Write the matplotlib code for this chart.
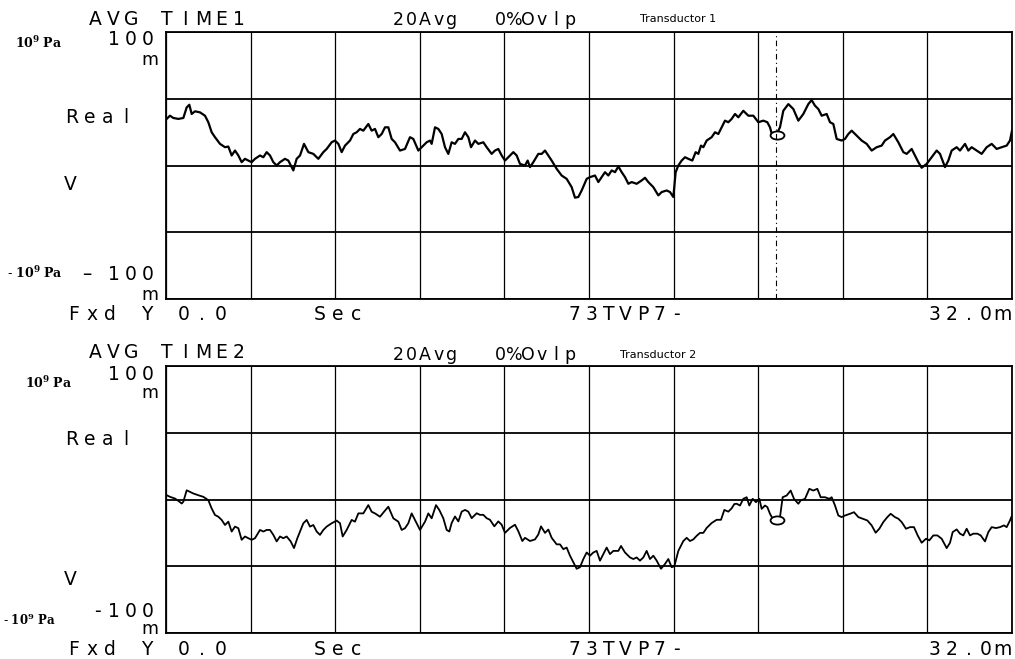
import matplotlib
matplotlib.use("Agg")
import matplotlib.pyplot as plt
import numpy as np
from matplotlib.path import Path
from matplotlib.transforms import Affine2D

# ---------------- data (time in ms, signal in mV) ----------------
t1 = [0.025, 0.151, 0.277, 0.466, 0.656, 0.782, 0.883, 0.971, 1.097, 1.286, 1.475, 1.601, 1.727, 1.853,
      2.043, 2.232, 2.358, 2.484, 2.610, 2.736, 2.862, 2.988, 3.114, 3.240, 3.366, 3.556, 3.682, 3.808,
      3.934, 4.060, 4.186, 4.312, 4.501, 4.627, 4.816, 4.942, 5.069, 5.220, 5.384, 5.573, 5.762, 5.951,
      6.077, 6.266, 6.392, 6.519, 6.645, 6.771, 6.960, 7.086, 7.212, 7.338, 7.464, 7.653, 7.779, 7.905,
      8.031, 8.158, 8.284, 8.410, 8.536, 8.662, 8.851, 9.040, 9.229, 9.355, 9.544, 9.733, 9.860, 9.986,
      10.049, 10.175, 10.301, 10.427, 10.553, 10.679,
      10.805, 10.931, 11.058, 11.184, 11.310, 11.436, 11.537, 11.688, 11.814, 12.003, 12.129, 12.318,
      12.444, 12.570, 12.697, 12.823, 13.012, 13.138, 13.264, 13.390, 13.579, 13.680, 13.768, 13.894,
      14.083, 14.210, 14.336, 14.462, 14.588, 14.777, 14.966, 15.155, 15.344, 15.470, 15.597, 15.723,
      15.912, 16.038, 16.227, 16.353, 16.479, 16.605, 16.731, 16.858, 16.984, 17.110, 17.236, 17.362,
      17.488, 17.614, 17.803, 17.992, 18.118, 18.244, 18.433, 18.622, 18.749, 18.938, 19.064, 19.190,
      19.278, 19.379, 19.505, 19.631, 19.757, 19.908, 20.035, 20.135, 20.236, 20.325, 20.451, 20.640,
      20.766, 20.892, 21.018, 21.144, 21.270, 21.396, 21.523,
      21.648, 21.837, 22.027, 22.216, 22.405, 22.594, 22.746, 22.846, 22.947, 23.098, 23.224, 23.350,
      23.540, 23.729, 23.918, 24.107, 24.296, 24.422, 24.548, 24.675, 24.801, 24.990, 25.116, 25.242,
      25.368, 25.557, 25.683, 25.809, 25.935, 26.124, 26.313, 26.503, 26.692, 26.881, 27.070, 27.196,
      27.385, 27.511, 27.700, 27.889, 28.016, 28.205, 28.331, 28.457, 28.583, 28.772, 28.961, 29.150,
      29.277, 29.466, 29.592, 29.718, 29.907, 30.033, 30.222, 30.348, 30.474, 30.663, 30.853, 31.042,
      31.231, 31.420, 31.609, 31.798, 31.924, 32.000]
v1 = [34.9, 37.3, 35.6, 34.9, 35.6, 43.5, 45.5, 38.6, 40.6, 39.8, 37.3, 32.4, 24.9, 21.2,
      16.2, 13.7, 14.2, 7.5, 11.2, 7.5, 2.5, 5.0, 3.7, 2.5, 5.0, 7.5, 6.2, 10.0,
      7.5, 2.5, 0.0, 2.5, 5.0, 3.7, -3.7, 5.0, 7.5, 16.2, 10.0, 8.7, 5.0, 10.0,
      12.4, 17.4, 18.7, 16.2, 10.0, 14.9, 18.7, 23.6, 24.9, 27.4, 26.1, 31.1, 26.1, 27.4,
      21.2, 23.6, 28.6, 28.6, 19.9, 17.4, 11.2, 12.4, 21.2, 19.9, 11.2, 14.9, 17.4, 18.7,
      16.2, 28.6, 27.4, 23.6, 13.7, 8.7,
      17.4, 16.2, 19.9, 19.9, 24.9, 21.2, 13.7, 18.7, 16.2, 17.4, 13.7, 8.7,
      11.2, 12.4, 7.5, 3.7, 7.5, 10.0, 7.5, 1.2, 0.0, 3.7, -1.2, 2.5,
      8.7, 8.7, 11.2, 7.5, 3.7, -2.5, -7.5, -10.0, -16.2, -24.1, -23.6, -18.7,
      -10.0, -8.7, -7.5, -12.4, -8.7, -5.0, -7.5, -3.7, -5.0, -0.7, -5.0, -8.7,
      -13.7, -12.4, -13.7, -11.2, -9.2, -12.4, -16.2, -22.4, -19.9, -18.7, -19.9, -23.6,
      -5.0, 0.0, 3.7, 6.2, 5.0, 3.7, 10.0, 8.7, 14.9, 13.7, 18.7, 21.2,
      24.9, 23.6, 28.6, 33.6, 32.4, 34.9, 38.6,
      36.1, 41.0, 37.3, 37.3, 32.4, 33.6, 32.4, 28.6, 21.2, 23.6, 28.6, 41.0,
      46.0, 42.3, 33.6, 38.6, 46.0, 49.0, 44.8, 42.3, 37.3, 38.6, 32.4, 31.1,
      19.9, 18.7, 19.9, 23.6, 26.1, 22.4, 18.7, 16.2, 11.2, 13.7, 14.9, 18.7,
      21.2, 23.6, 17.4, 10.0, 8.7, 12.4, 7.5, 2.5, -1.7, 1.2, 6.2, 11.2,
      8.7, -1.2, 3.7, 11.2, 13.7, 11.2, 16.2, 11.2, 13.7, 11.2, 8.7, 13.7,
      16.2, 12.4, 13.7, 14.9, 18.7, 26.1]

t2 = [0.025, 0.151, 0.340, 0.466, 0.593, 0.656, 0.782, 0.908, 1.034, 1.223, 1.412, 1.601, 1.727, 1.853,
      1.979, 2.106, 2.232, 2.358, 2.484, 2.610, 2.736, 2.862, 2.988, 3.114, 3.240, 3.366, 3.556, 3.682,
      3.808, 3.934, 4.060, 4.186, 4.312, 4.438, 4.564, 4.716, 4.842, 4.968, 5.069, 5.195, 5.321, 5.447,
      5.573, 5.699, 5.825, 5.951, 6.077, 6.266, 6.455, 6.582, 6.683, 6.834, 7.023, 7.149, 7.275, 7.464,
      7.653, 7.779, 7.905, 8.095, 8.246, 8.410, 8.599, 8.788, 8.914, 9.040, 9.166, 9.292, 9.418, 9.608,
      9.797, 9.923, 10.049, 10.213, 10.339, 10.490, 10.616, 10.717,
      10.805, 10.931, 11.058, 11.184, 11.310, 11.436, 11.562, 11.751, 11.877, 12.003, 12.129, 12.255,
      12.419, 12.570, 12.697, 12.823, 13.012, 13.201, 13.327, 13.478, 13.579, 13.768, 13.957, 14.083,
      14.184, 14.336, 14.462, 14.588, 14.777, 14.903, 15.029, 15.155, 15.281, 15.407, 15.534, 15.660,
      15.786, 15.912, 16.038, 16.164, 16.290, 16.416, 16.542, 16.668, 16.794, 16.920, 17.110, 17.210,
      17.362, 17.551, 17.677, 17.803, 17.929, 18.055, 18.181, 18.307, 18.433, 18.560, 18.723, 18.874,
      19.000, 19.127, 19.228, 19.379, 19.568, 19.694, 19.820, 19.946, 20.073, 20.199, 20.325, 20.451,
      20.640, 20.829, 20.993, 21.119, 21.270, 21.396, 21.497,
      21.585, 21.712, 21.837, 21.964, 22.064, 22.190, 22.317, 22.443, 22.531, 22.657, 22.746, 22.846,
      22.947, 23.224, 23.325, 23.477, 23.628, 23.754, 23.918, 24.006, 24.170, 24.334, 24.485, 24.637,
      24.763, 24.927, 25.091, 25.179, 25.305, 25.431, 25.557, 25.683, 25.872, 26.024, 26.188, 26.352,
      26.528, 26.692, 26.843, 26.982, 27.133, 27.284, 27.411, 27.574, 27.700, 27.827, 27.990, 28.142,
      28.293, 28.432, 28.583, 28.747, 28.873, 29.024, 29.176, 29.340, 29.529, 29.655, 29.756, 29.907,
      30.033, 30.159, 30.285, 30.411, 30.537, 30.689, 30.815, 30.979, 31.105, 31.231, 31.395, 31.546,
      31.697, 31.798, 31.924, 32.000]
v2 = [3.2, 2.0, 0.7, -1.0, -3.0, -1.7, 6.9, 5.7, 4.5, 3.2, 2.0, -0.5, -6.7, -11.6,
      -12.9, -15.3, -19.1, -16.6, -24.0, -20.3, -21.5, -30.2, -27.7, -29.0, -30.2, -29.0, -22.8, -24.0,
      -22.8, -22.8, -26.5, -31.4, -27.7, -29.0, -27.7, -31.4, -36.4, -29.0, -24.0, -17.8, -15.3, -20.3,
      -19.1, -24.0, -26.5, -22.8, -20.3, -17.8, -15.8, -17.8, -27.7, -22.8, -15.3, -16.6, -10.4, -10.4,
      -4.2, -9.2, -10.4, -12.9, -9.2, -5.4, -14.1, -16.6, -22.8, -21.5, -17.8, -10.4, -15.3, -22.8,
      -16.6, -10.4, -14.1, -4.2, -7.9, -14.1, -22.8, -24.0,
      -17.6, -12.7, -16.4, -9.1, -7.8, -9.1, -14.0, -10.3, -11.5, -11.5, -14.0, -15.2,
      -20.1, -16.4, -18.9, -25.0, -21.3, -18.9, -23.8, -31.1, -28.7, -31.1, -29.9, -26.2,
      -20.1, -25.0, -22.5, -28.7, -33.6, -33.6, -37.2, -36.0, -42.1, -47.0, -51.9, -50.7,
      -44.6, -39.7, -42.1, -39.7, -38.5, -45.8, -40.9, -36.0, -40.9, -38.5, -38.5, -34.8,
      -39.7, -43.4, -44.6, -43.4, -45.8, -43.4, -38.5, -44.6, -42.1, -45.8, -51.9, -48.3,
      -44.6, -50.7, -50.0, -38.5, -31.1, -28.7, -31.1, -29.9, -27.2, -25.0, -25.0, -21.3,
      -17.6, -15.2, -15.2, -7.8, -9.1, -6.6, -3.4,
      -3.2, -4.5, 0.5, 1.7, -4.5, 0.5, -2.0, 0.5, -7.0, -4.5, -5.7, -10.7,
      -14.4, -13.2, 1.7, 3.0, 6.7, 0.5, -3.2, -0.7, 0.5, 8.0, 6.7, 8.0,
      1.7, 1.7, 0.5, 1.7, -4.5, -12.0, -13.2, -12.0, -10.7, -9.5, -13.2, -14.4,
      -15.7, -19.4, -24.9, -21.9, -16.9, -13.2, -10.7, -13.2, -14.4, -16.9, -21.9, -20.7,
      -20.7, -26.9, -32.4, -29.4, -30.6, -26.9, -26.9, -29.4, -36.4, -32.4, -24.4, -22.4,
      -25.6, -26.9, -21.9, -26.9, -25.6, -25.6, -26.9, -31.4, -24.4, -20.7, -21.4, -20.7,
      -19.4, -20.7, -15.7, -12.0]

marker_t = [23.1, 23.1]
marker_v = [22.5, -15.0]
cursor_t = 23.07

# ---------------- figure ----------------
W, H = 1015, 659
plt.rcParams['mathtext.fontset'] = 'dejavuserif'
fig = plt.figure(figsize=(W / 100, H / 100), dpi=100)
fig.patch.set_facecolor('white')

ax1 = fig.add_axes([166 / W, 1 - 299 / H, 846 / W, 267 / H])
ax2 = fig.add_axes([166 / W, 1 - 633 / H, 846 / W, 267 / H])

mk = Path.unit_circle().transformed(Affine2D().scale(1.7, 1.0))

for ax, t, v, lw, mv in [(ax1, t1, v1, 1.6, marker_v[0]), (ax2, t2, v2, 1.3, marker_v[1])]:
    ax.set_xlim(0, 32)
    ax.set_ylim(-100, 100)
    ax.set_xticks(np.linspace(0, 32, 11))
    ax.set_yticks([-100, -50, 0, 50, 100])
    ax.xaxis.grid(True, color='black', lw=0.9)
    ax.yaxis.grid(True, color='black', lw=1.3)
    ax.set_axisbelow(True)
    ax.tick_params(length=0, labelleft=False, labelbottom=False)
    for s in ax.spines.values():
        s.set_linewidth(1.3)
        s.set_color('black')
    ax.plot(t, v, color='black', lw=lw, solid_joinstyle='round')
    ax.plot([marker_t[0]], [mv], marker=mk, ms=10, mfc='white', mec='black', mew=1.3, ls='none')

ax1.axvline(cursor_t, color='black', lw=0.8, ls=(0, (5, 3, 1, 3)))


def txt(x, y, s, size, ha='left', **kw):
    fig.text(x / W, 1 - y / H, s, fontsize=size, ha=ha, va='baseline', **kw)


def mono(x_left, y, s, pitch, size):
    for i, ch in enumerate(s):
        if ch != ' ':
            txt(x_left + pitch * (i + 0.5), y, ch, size, ha='center', family='DejaVu Sans')


BIG = 13.5
HDR = 12.5
PA = r'$\mathbf{10^9}$ $\mathbf{Pa}$'

# top panel labels
mono(86, 25, "AVG TIME1", 18, BIG)
mono(391, 25, "20Avg", 13.5, HDR)
mono(493, 25, "0%Ovlp", 14, HDR)
txt(640, 22, "Transductor 1", 8)
txt(15, 48, PA, 9)
mono(106, 45, "100", 16.5, BIG)
txt(150, 65, "m", 12.5, ha='center')
mono(63, 123, "Real", 18, BIG)
txt(70, 190, "V", BIG, ha='center')
txt(7, 278, '- ' + PA, 9)
txt(87, 280, "\u2013", BIG, ha='center')
mono(106, 280, "100", 16.5, BIG)
txt(150, 300, "m", 12.5, ha='center')
mono(64, 320, "Fxd Y 0.0", 18.4, BIG)
mono(311, 320, "Sec", 18, BIG)
mono(566, 320, "73TVP7-", 17, BIG)
mono(926, 320, "32.0m", 17, BIG)

# bottom panel labels
mono(86, 358, "AVG TIME2", 18, BIG)
mono(391, 360, "20Avg", 13.5, HDR)
mono(493, 360, "0%Ovlp", 14, HDR)
txt(620, 358, "Transductor 2", 8)
txt(25, 388, PA, 9)
mono(106, 380, "100", 16.5, BIG)
txt(150, 398, "m", 12.5, ha='center')
mono(63, 445, "Real", 18, BIG)
txt(70, 585, "V", BIG, ha='center')
txt(3, 625, '- ' + PA, 8.5)
txt(97, 617, "-", BIG, ha='center')
mono(106, 617, "100", 16.5, BIG)
txt(150, 634, "m", 12.5, ha='center')
mono(64, 655, "Fxd Y 0.0", 18.4, BIG)
mono(311, 655, "Sec", 18, BIG)
mono(566, 655, "73TVP7-", 17, BIG)
mono(926, 655, "32.0m", 17, BIG)

fig.savefig("out.png", dpi=100, facecolor='white')
